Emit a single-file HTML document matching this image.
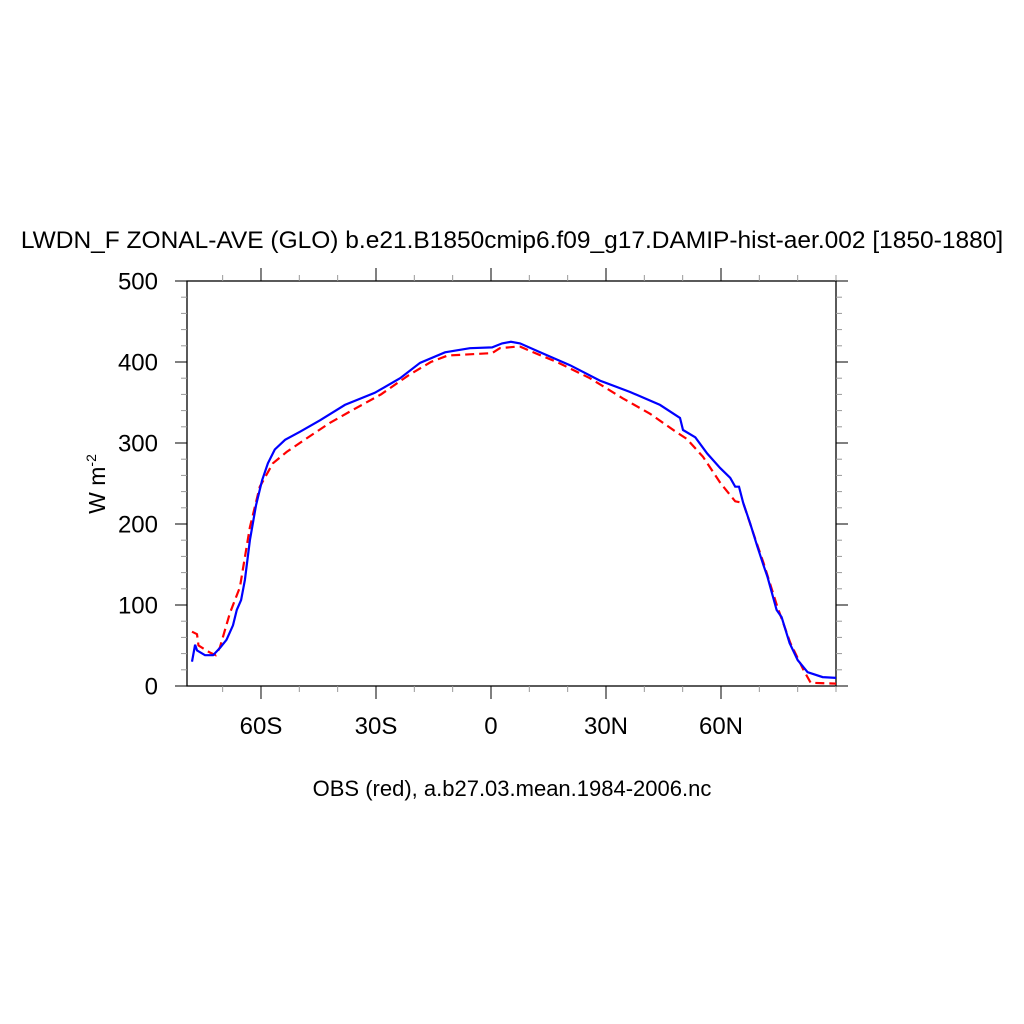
<!DOCTYPE html>
<html><head><meta charset="utf-8"><style>
body{margin:0;background:#fff;}
svg{display:block;font-family:"Liberation Sans",sans-serif;}
</style></head><body>
<svg id="c" width="1024" height="1024" viewBox="0 0 1024 1024">
<text x="512" y="248" font-size="24.5" text-anchor="middle">LWDN_F ZONAL-AVE (GLO) b.e21.B1850cmip6.f09_g17.DAMIP-hist-aer.002 [1850-1880]</text>
<text x="512" y="796" font-size="22" text-anchor="middle">OBS (red), a.b27.03.mean.1984-2006.nc</text>
<text transform="translate(105,484) rotate(-90)" font-size="23" text-anchor="middle">W m<tspan dy="-9" font-size="14">-2</tspan></text>
<g id="axes"></g>
<g id="series"></g>
</svg>
<script>
const xTickVals=[-60,-30,0,30,60];
const xTickLabels=["60S","30S","0","30N","60N"];
const yTickVals=[0,100,200,300,400,500];
const yTickLabels=["0","100","200","300","400","500"];
const modelLat=[-78.0,-77.2,-76.7,-74.6,-72.5,-70.7,-69.0,-67.3,-66.3,-65.2,-64.2,-62.9,-61.3,-59.7,-58.2,-56.4,-53.7,-49.8,-44.6,-38.1,-30.3,-23.7,-18.5,-12.0,-5.5,0.3,2.9,5.2,7.6,12.8,20.6,28.4,36.3,44.1,49.3,50.1,53.3,56.4,59.8,62.4,63.7,64.7,65.8,67.6,69.5,71.1,72.1,74.5,75.8,77.9,80.0,82.6,86.5,90.0];
const modelVal=[30,51,44,38,38,47,57,75,94,106,131,180,223,254,275,292,304,314,328,347,362,380,399,412,417,418,423,425,423,412,396,377,363,347,331,316,307,287,269,257,246,246,226,201,172,149,135,94,85,53,32,17,11,10];
const obsLat=[-78.0,-76.7,-76.3,-73.2,-71.8,-70.7,-68.1,-65.5,-62.9,-60.3,-56.9,-53.3,-48.0,-42.0,-36.0,-28.7,-21.7,-15.7,-11.3,-7.3,0.3,2.3,6.8,7.6,11.0,17.2,25.8,34.4,41.5,48.5,51.1,55.3,59.8,63.7,65.8,68.4,71.1,74.7,78.1,81.5,83.4,90.0];
const obsVal=[67,64,50,41,38,48,90,122,196,246,275,289,306,325,341,360,383,400,408,409,411,417,419,419,412,400,380,355,336,313,305,283,251,228,226,189,152,98,53,20,4,3];
const X0=187,X1=836,Y0=686,Y1=281,LAT0=-79.3,LAT1=90;
const xs=v=>X0+(v-LAT0)/(LAT1-LAT0)*(X1-X0);
const ys=v=>Y0-(v-0)/(500-0)*(Y0-Y1);
const NS="http://www.w3.org/2000/svg";
const axes=document.getElementById('axes'),series=document.getElementById('series');
function mk(tag,attrs,parent){const e=document.createElementNS(NS,tag);for(const k in attrs)e.setAttribute(k,attrs[k]);parent.appendChild(e);return e;}
const frame=mk('rect',{x:X0,y:Y1,width:X1-X0,height:Y0-Y1,fill:'none',stroke:'#000','stroke-width':1.3},axes);


for(let v=-70;v<=90;v+=10){const x=xs(v);const major=xTickVals.includes(v);const L=major?13:6;
const t1=mk('line',{x1:x,x2:x,y1:Y0,y2:Y0+L,stroke:major?'#000':'#999','stroke-width':1},axes);


const t2=mk('line',{x1:x,x2:x,y1:Y1,y2:Y1-L,stroke:major?'#000':'#999','stroke-width':1},axes);

}
xTickVals.forEach((v,i)=>{const t=mk('text',{x:xs(v),y:734,'font-size':24,'text-anchor':'middle'},axes);t.textContent=xTickLabels[i];

});
for(let v=0;v<=500;v+=20){const y=ys(v);const major=v%100===0;const L=major?12:6;
const t1=mk('line',{x1:X0-L,x2:X0,y1:y,y2:y,stroke:major?'#000':'#999','stroke-width':1},axes);


const t2=mk('line',{x1:X1,x2:X1+L,y1:y,y2:y,stroke:major?'#000':'#999','stroke-width':1},axes);

}
yTickVals.forEach((v,i)=>{const t=mk('text',{x:158,y:ys(v)+8.5,'font-size':24,'text-anchor':'end'},axes);t.textContent=yTickLabels[i];

});
function path(lat,val){return lat.map((l,i)=>(i?'L':'M')+xs(l).toFixed(1)+','+ys(val[i]).toFixed(1)).join('');}
const obs=mk('path',{d:path(obsLat,obsVal),fill:'none',stroke:'#f00','stroke-width':2.2,'stroke-dasharray':'9 5'},series);


const mod=mk('path',{d:path(modelLat,modelVal),fill:'none',stroke:'#00f','stroke-width':2.2},series);


</script>
</body></html>
